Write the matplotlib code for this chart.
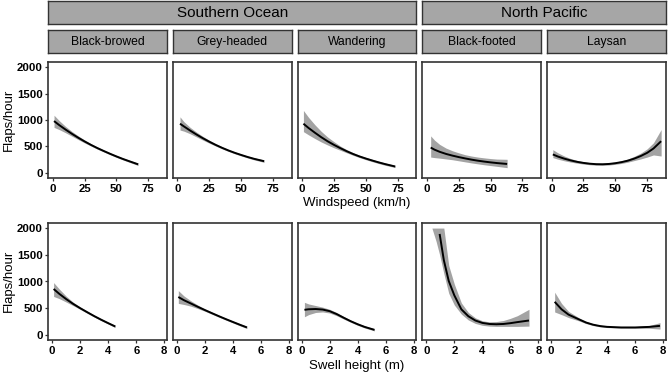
import numpy as np
import matplotlib
matplotlib.use("Agg")
import matplotlib.pyplot as plt

plt.rcParams['font.family'] = ['Liberation Sans', 'DejaVu Sans']

regions = ['Southern Ocean', 'North Pacific']
species = ['Black-browed', 'Grey-headed', 'Wandering', 'Black-footed', 'Laysan']
wind_ticks = [0, 25, 50, 75]
swell_ticks = [0, 2, 4, 6, 8]
y_ticks = [0, 500, 1000, 1500, 2000]

# windspeed models (km/h -> flaps/hour)
wind_bb_x = [1, 5, 10, 15, 20, 25, 30, 35, 40, 45, 50, 55, 60, 67]
wind_bb_fit = [980, 905, 820, 740, 665, 595, 530, 470, 415, 362, 312, 265, 222, 163]
wind_bb_lo = [860, 820, 760, 695, 630, 567, 508, 450, 397, 344, 294, 247, 202, 141]
wind_bb_hi = [1090, 990, 880, 785, 700, 623, 552, 490, 433, 380, 330, 283, 242, 185]

wind_gh_x = [2, 5, 10, 15, 20, 25, 30, 35, 40, 45, 50, 55, 60, 68]
wind_gh_fit = [930, 880, 800, 725, 655, 590, 530, 475, 425, 380, 340, 302, 268, 222]
wind_gh_lo = [810, 790, 740, 680, 620, 562, 508, 455, 407, 362, 322, 284, 248, 200]
wind_gh_hi = [1060, 970, 860, 770, 690, 618, 552, 495, 443, 398, 358, 320, 288, 244]

wind_wa_x = [1, 5, 10, 15, 20, 25, 30, 35, 40, 45, 50, 55, 60, 65, 73]
wind_wa_fit = [930, 850, 760, 675, 598, 530, 468, 410, 358, 312, 272, 235, 200, 168, 122]
wind_wa_lo = [780, 720, 650, 585, 528, 475, 428, 380, 333, 290, 250, 213, 178, 146, 102]
wind_wa_hi = [1180, 1050, 910, 785, 678, 590, 508, 440, 383, 334, 294, 257, 222, 190, 142]

wind_bf_x = [3, 6, 10, 15, 20, 25, 30, 35, 40, 45, 50, 55, 63]
wind_bf_fit = [480, 440, 400, 360, 328, 300, 275, 252, 232, 215, 200, 187, 170]
wind_bf_lo = [300, 290, 280, 265, 250, 230, 210, 190, 172, 155, 140, 125, 100]
wind_bf_hi = [700, 620, 540, 470, 420, 380, 345, 320, 300, 285, 272, 262, 258]

wind_la_x = [1, 5, 10, 15, 20, 25, 30, 35, 40, 45, 50, 55, 60, 65, 70, 75, 80, 86]
wind_la_fit = [350, 310, 270, 237, 210, 190, 175, 166, 164, 170, 184, 205, 233, 272, 320, 380, 462, 600]
wind_la_lo = [290, 260, 230, 205, 185, 168, 155, 147, 145, 150, 163, 180, 205, 235, 265, 300, 340, 320]
wind_la_hi = [440, 380, 320, 272, 238, 212, 195, 185, 185, 190, 207, 230, 265, 315, 375, 455, 570, 820]

# swell height models (m -> flaps/hour)
swell_bb_x = [0.1, 0.5, 1.0, 1.5, 2.0, 2.5, 3.0, 3.5, 4.0, 4.5]
swell_bb_fit = [860, 770, 670, 580, 500, 425, 352, 284, 220, 158]
swell_bb_lo = [720, 680, 615, 548, 478, 405, 334, 266, 202, 138]
swell_bb_hi = [980, 860, 725, 612, 522, 445, 370, 302, 238, 178]

swell_gh_x = [0.1, 0.5, 1.0, 1.5, 2.0, 2.5, 3.0, 3.5, 4.0, 4.5, 5.0]
swell_gh_fit = [710, 650, 588, 525, 465, 407, 350, 295, 242, 190, 140]
swell_gh_lo = [590, 570, 538, 492, 443, 387, 332, 277, 224, 170, 120]
swell_gh_hi = [830, 730, 638, 558, 487, 427, 368, 313, 260, 210, 160]

swell_wa_x = [0.2, 0.5, 1.0, 1.5, 2.0, 2.5, 3.0, 3.5, 4.0, 4.5, 5.2]
swell_wa_fit = [470, 480, 485, 475, 445, 390, 322, 257, 200, 150, 95]
swell_wa_lo = [340, 380, 420, 430, 410, 360, 297, 237, 180, 130, 75]
swell_wa_hi = [610, 580, 550, 520, 480, 420, 347, 277, 220, 170, 115]

swell_bf_x = [0.4, 0.7, 0.95, 1.25, 1.6, 2.0, 2.5, 3.0, 3.5, 4.0, 4.5, 5.0, 5.5, 6.0, 6.5, 7.33]
swell_bf_fit = [3000, 2350, 1890, 1400, 1010, 740, 480, 350, 270, 225, 205, 200, 205, 220, 240, 270]
swell_bf_lo = [2000, 1750, 1500, 1150, 780, 560, 390, 280, 215, 180, 165, 160, 160, 160, 160, 165]
swell_bf_hi = [4000, 3000, 2350, 2000, 1300, 950, 600, 420, 320, 265, 245, 250, 270, 310, 360, 480]

swell_la_x = [0.26, 0.75, 1.25, 2.0, 2.5, 3.0, 3.5, 4.0, 5.0, 6.0, 7.0, 7.78]
swell_la_fit = [620, 480, 380, 290, 232, 192, 166, 151, 140, 140, 150, 170]
swell_la_lo = [430, 380, 325, 262, 212, 175, 151, 138, 127, 125, 125, 110]
swell_la_hi = [800, 590, 440, 320, 254, 210, 181, 164, 153, 155, 175, 230]

wind_models = [
    (wind_bb_x, wind_bb_fit, wind_bb_lo, wind_bb_hi),
    (wind_gh_x, wind_gh_fit, wind_gh_lo, wind_gh_hi),
    (wind_wa_x, wind_wa_fit, wind_wa_lo, wind_wa_hi),
    (wind_bf_x, wind_bf_fit, wind_bf_lo, wind_bf_hi),
    (wind_la_x, wind_la_fit, wind_la_lo, wind_la_hi),
]
swell_models = [
    (swell_bb_x, swell_bb_fit, swell_bb_lo, swell_bb_hi),
    (swell_gh_x, swell_gh_fit, swell_gh_lo, swell_gh_hi),
    (swell_wa_x, swell_wa_fit, swell_wa_lo, swell_wa_hi),
    (swell_bf_x, swell_bf_fit, swell_bf_lo, swell_bf_hi),
    (swell_la_x, swell_la_fit, swell_la_lo, swell_la_hi),
]

W, H = 669, 375
fig = plt.figure(figsize=(W / 100, H / 100), dpi=100)

lefts = [48.3, 173.0, 297.7, 422.4, 547.1]
pw = 118.5
strip_fc = '#a6a6a6'
edge = '#333333'
YMAX = 2000
tick_font = ['Liberation Sans Narrow', 'Liberation Sans', 'DejaVu Sans']


def fx(px):
    return px / W


def fy(py):
    return 1 - py / H


def strip(x0, x1, y0, y1, text, size):
    ax = fig.add_axes([fx(x0), fy(y1), fx(x1 - x0), (y1 - y0) / H])
    ax.set_facecolor(strip_fc)
    ax.set_xticks([])
    ax.set_yticks([])
    for s in ax.spines.values():
        s.set_color(edge)
        s.set_linewidth(1.0)
    ax.text(0.5, 0.47, text, ha='center', va='center', fontsize=size, color='black', transform=ax.transAxes)


strip(lefts[0], lefts[2] + pw, 1, 24, regions[0], 11)
strip(lefts[3], lefts[4] + pw, 1, 24, regions[1], 11)
for i, sp in enumerate(species):
    strip(lefts[i], lefts[i] + pw, 30, 53, sp, 8.7)


def panel(i, top, bot, model, xlim, xticks):
    ax = fig.add_axes([fx(lefts[i]), fy(bot), fx(pw), (bot - top) / H])
    x, fit, lo, hi = [np.array(a, dtype=float) for a in model]
    ax.fill_between(x, lo, np.minimum(hi, YMAX), color='#a3a3a3', lw=0, zorder=2)
    m = fit <= YMAX
    ax.plot(x[m], fit[m], color='black', lw=1.4, zorder=3, solid_capstyle='butt')
    ax.set_xlim(*xlim)
    ax.set_ylim(-95, 2095)
    ax.set_xticks(xticks)
    ax.set_yticks(y_ticks)
    ax.tick_params(length=2.5, width=0.9, color=edge, labelsize=8.2, pad=1.5, labelcolor='black')
    for lab in ax.get_xticklabels() + ax.get_yticklabels():
        lab.set_fontweight('bold')
        lab.set_family(tick_font)
    if i > 0:
        ax.tick_params(axis='y', left=False, labelleft=False)
    for s in ax.spines.values():
        s.set_color(edge)
        s.set_linewidth(1.2)
    return ax


for i in range(5):
    panel(i, 62, 178, wind_models[i], (-3.5, 89.5), wind_ticks)
    panel(i, 223, 340, swell_models[i], (-0.28, 8.18), swell_ticks)

fig.text(fx(357), fy(203), 'Windspeed (km/h)', ha='center', va='center', fontsize=9.5)
fig.text(fx(357), fy(366), 'Swell height (m)', ha='center', va='center', fontsize=9.5)
fig.text(fx(9), fy(120), 'Flaps/hour', ha='center', va='center', rotation=90, fontsize=9.5)
fig.text(fx(9), fy(281), 'Flaps/hour', ha='center', va='center', rotation=90, fontsize=9.5)

fig.savefig('out.png', dpi=100)
